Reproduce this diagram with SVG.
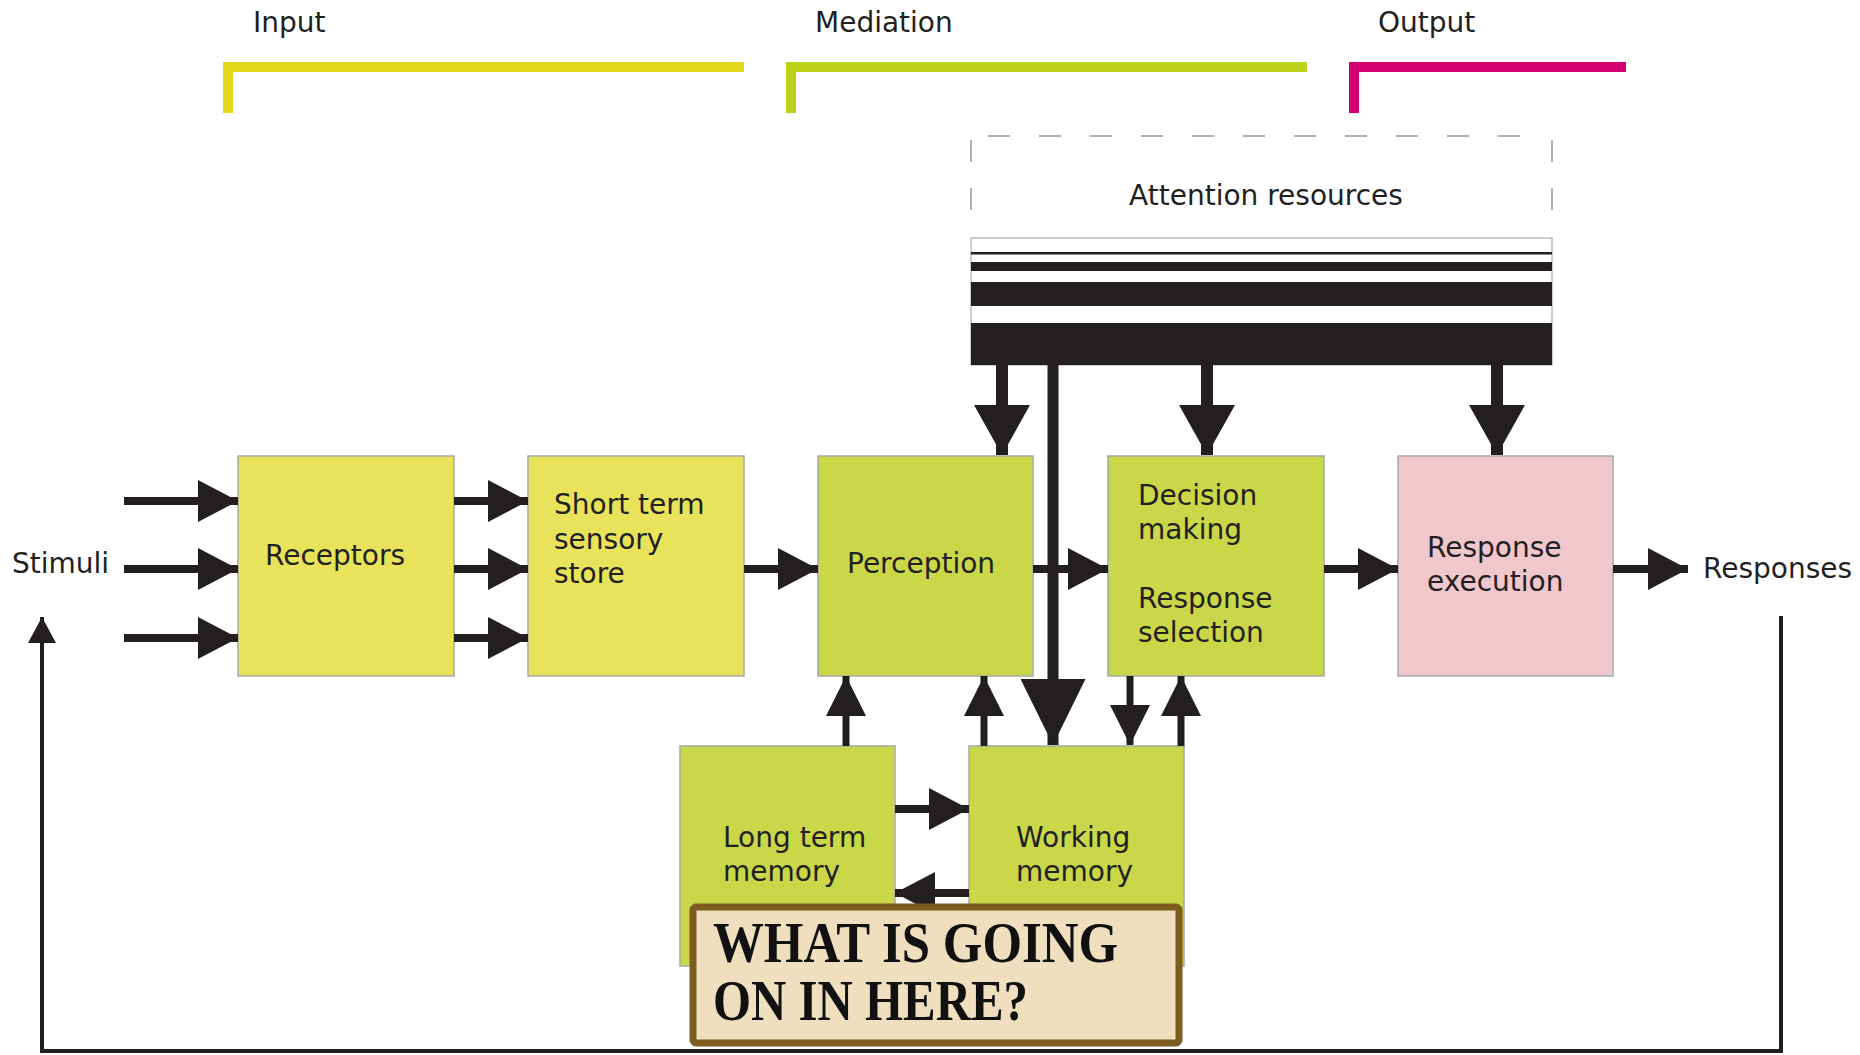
<svg xmlns="http://www.w3.org/2000/svg" width="1860" height="1055" viewBox="0 0 1860 1055">
<style>
  .lbl { font-family: "DejaVu Sans", Verdana, sans-serif; font-size: 28px; fill: #231f20; }
  .box { stroke: #a8a8a8; stroke-width: 1.5; }
  .yel { fill: #e8e35b; }
  .grn { fill: #c9d748; }
  .pnk { fill: #efc7cc; }
  .shaft { stroke: #231f20; fill: none; }
  .dash { stroke: #b0b0b0; stroke-width: 2; fill: none; }
  .q { font-family: "Liberation Serif", "Times New Roman", serif; font-weight: bold; font-size: 56px; fill: #111; }
</style>
<defs>
  <marker id="ah" markerUnits="userSpaceOnUse" markerWidth="40" markerHeight="42" refX="40" refY="21" orient="auto">
    <path d="M0,0 L40,21 L0,42 z" fill="#231f20"/>
  </marker>
  <marker id="av" markerUnits="userSpaceOnUse" markerWidth="40" markerHeight="40" refX="40" refY="20" orient="auto">
    <path d="M0,0 L40,20 L0,40 z" fill="#231f20"/>
  </marker>
  <marker id="abig" markerUnits="userSpaceOnUse" markerWidth="50" markerHeight="56" refX="50" refY="28" orient="auto">
    <path d="M0,0 L50,28 L0,56 z" fill="#231f20"/>
  </marker>
  <marker id="ahuge" markerUnits="userSpaceOnUse" markerWidth="66" markerHeight="65" refX="66" refY="32.5" orient="auto">
    <path d="M0,0 L66,32.5 L0,65 z" fill="#231f20"/>
  </marker>
  <marker id="afb" markerUnits="userSpaceOnUse" markerWidth="26" markerHeight="28" refX="26" refY="14" orient="auto">
    <path d="M0,0 L26,14 L0,28 z" fill="#231f20"/>
  </marker>
</defs>
<rect width="1860" height="1055" fill="#ffffff"/>

<!-- phase brackets -->
<g id="phase-input">
  <path d="M228,113 V67 H744" fill="none" stroke="#e4da1c" stroke-width="10"/>
  <text class="lbl" x="253" y="32">Input</text>
</g>
<g id="phase-mediation">
  <path d="M791,113 V67 H1307" fill="none" stroke="#bcd31a" stroke-width="10"/>
  <text class="lbl" x="815" y="32">Mediation</text>
</g>
<g id="phase-output">
  <path d="M1354,113 V67 H1626" fill="none" stroke="#d5006f" stroke-width="10"/>
  <text class="lbl" x="1378" y="32">Output</text>
</g>

<!-- attention resources -->
<g id="attention">
  <line class="dash" x1="988" y1="136" x2="1545" y2="136" stroke-dasharray="22 29"/>
  <line class="dash" x1="971" y1="140" x2="971" y2="214" stroke-dasharray="22 26"/>
  <line class="dash" x1="1552" y1="140" x2="1552" y2="214" stroke-dasharray="22 26"/>
  <text class="lbl" x="1266" y="205" text-anchor="middle">Attention resources</text>
  <rect x="971" y="238" width="581" height="127" fill="#ffffff" stroke="#bdbdbd" stroke-width="1.5"/>
  <rect x="971" y="252" width="581" height="2.5" fill="#231f20"/>
  <rect x="971" y="262" width="581" height="9" fill="#231f20"/>
  <rect x="971" y="282" width="581" height="24" fill="#231f20"/>
  <rect x="971" y="323" width="581" height="42" fill="#231f20"/>
</g>

<!-- nodes -->
<g id="receptors">
  <rect class="box yel" x="238" y="456" width="216" height="220"/>
  <text class="lbl" x="265" y="565">Receptors</text>
</g>
<g id="sensory-store">
  <rect class="box yel" x="528" y="456" width="216" height="220"/>
  <text class="lbl" x="554" y="514">Short term</text>
  <text class="lbl" x="554" y="548.5">sensory</text>
  <text class="lbl" x="554" y="583">store</text>
</g>
<g id="perception">
  <rect class="box grn" x="818" y="456" width="215" height="220"/>
  <text class="lbl" x="847" y="573">Perception</text>
</g>
<g id="decision">
  <rect class="box grn" x="1108" y="456" width="216" height="220"/>
  <text class="lbl" x="1138" y="505">Decision</text>
  <text class="lbl" x="1138" y="539">making</text>
  <text class="lbl" x="1138" y="608">Response</text>
  <text class="lbl" x="1138" y="642">selection</text>
</g>
<g id="response-execution">
  <rect class="box pnk" x="1398" y="456" width="215" height="220"/>
  <text class="lbl" x="1427" y="557">Response</text>
  <text class="lbl" x="1427" y="591">execution</text>
</g>
<g id="long-term-memory">
  <rect class="box grn" x="680" y="746" width="215" height="220"/>
  <text class="lbl" x="723" y="847">Long term</text>
  <text class="lbl" x="723" y="881">memory</text>
</g>
<g id="working-memory">
  <rect class="box grn" x="969" y="746" width="215" height="220"/>
  <text class="lbl" x="1016" y="847">Working</text>
  <text class="lbl" x="1016" y="881">memory</text>
</g>
<g id="stimuli">
  <text class="lbl" x="12" y="573">Stimuli</text>
</g>
<g id="responses">
  <text class="lbl" x="1703" y="578">Responses</text>
</g>

<!-- connectors -->
<g id="connectors" class="shaft">
  <line x1="124" y1="501" x2="238" y2="501" stroke-width="8" marker-end="url(#ah)"/>
  <line x1="124" y1="569" x2="238" y2="569" stroke-width="8" marker-end="url(#ah)"/>
  <line x1="124" y1="638" x2="238" y2="638" stroke-width="8" marker-end="url(#ah)"/>
  <line x1="454" y1="501" x2="528" y2="501" stroke-width="8" marker-end="url(#ah)"/>
  <line x1="454" y1="569" x2="528" y2="569" stroke-width="8" marker-end="url(#ah)"/>
  <line x1="454" y1="638" x2="528" y2="638" stroke-width="8" marker-end="url(#ah)"/>
  <line x1="744" y1="569" x2="818" y2="569" stroke-width="8" marker-end="url(#ah)"/>
  <line x1="1033" y1="569" x2="1108" y2="569" stroke-width="8" marker-end="url(#ah)"/>
  <line x1="1324" y1="569" x2="1398" y2="569" stroke-width="8" marker-end="url(#ah)"/>
  <line x1="1613" y1="569" x2="1688" y2="569" stroke-width="8" marker-end="url(#ah)"/>
  <line x1="1002" y1="365" x2="1002" y2="455" stroke-width="12" marker-end="url(#abig)"/>
  <line x1="1207" y1="365" x2="1207" y2="455" stroke-width="12" marker-end="url(#abig)"/>
  <line x1="1497" y1="365" x2="1497" y2="455" stroke-width="12" marker-end="url(#abig)"/>
  <line x1="1053" y1="365" x2="1053" y2="745" stroke-width="11" marker-end="url(#ahuge)"/>
  <line x1="846" y1="746" x2="846" y2="676" stroke-width="7" marker-end="url(#av)"/>
  <line x1="984" y1="746" x2="984" y2="676" stroke-width="7" marker-end="url(#av)"/>
  <line x1="1130" y1="676" x2="1130" y2="745" stroke-width="7" marker-end="url(#av)"/>
  <line x1="1181" y1="746" x2="1181" y2="676" stroke-width="7" marker-end="url(#av)"/>
  <line x1="895" y1="809" x2="969" y2="809" stroke-width="8" marker-end="url(#ah)"/>
  <line x1="969" y1="893" x2="895" y2="893" stroke-width="8" marker-end="url(#ah)"/>
  <polyline points="1781,616 1781,1051 42,1051 42,617" stroke-width="4" marker-end="url(#afb)"/>
</g>

<!-- overlay callout -->
<g id="callout">
  <rect x="693" y="907" width="486" height="136" fill="#efdfbe" stroke="#7d5c1f" stroke-width="7" rx="3"/>
  <text class="q" x="713" y="962" textLength="405" lengthAdjust="spacingAndGlyphs">WHAT IS GOING</text>
  <text class="q" x="713" y="1020" textLength="315" lengthAdjust="spacingAndGlyphs">ON IN HERE?</text>
</g>
</svg>
